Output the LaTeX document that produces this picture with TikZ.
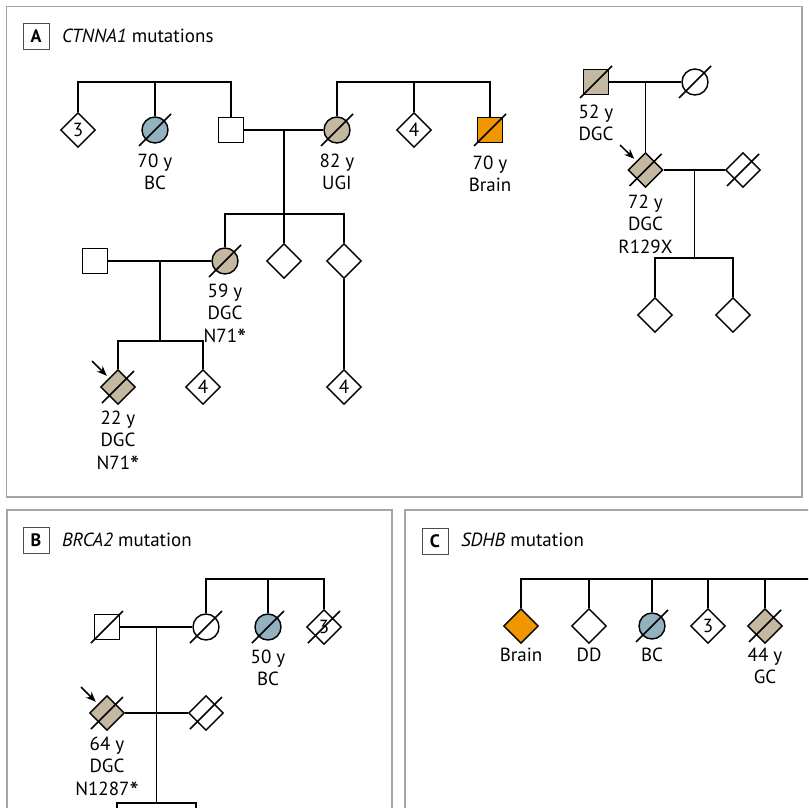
\documentclass[tikz,border=0pt]{standalone}
\usepackage{fontspec}
\setmainfont{PT Sans}
\usetikzlibrary{shapes.geometric,positioning,calc,arrows.meta}
\definecolor{gcfill}{RGB}{196,185,160}
\definecolor{bcfill}{RGB}{146,178,192}
\definecolor{brainfill}{RGB}{240,150,0}
\definecolor{framegray}{RGB}{165,165,165}
\newcommand{\dead}[1]{\draw ([shift={(-16,16)}]#1.center) -- ([shift={(16,-16)}]#1.center);}
\newcommand{\mutstar}{\raisebox{-0.3em}{\fontsize{26}{26}\selectfont *}}

\begin{document}
\begin{tikzpicture}[x=1pt,y=-1pt,line width=1.45pt,
    every node/.style={font=\fontsize{19}{22.5}\selectfont},
    male/.style={draw,rectangle,minimum size=25,inner sep=0},
    female/.style={draw,circle,minimum size=26,inner sep=0},
    unk/.style={draw,diamond,minimum size=35,inner sep=0},
    lab/.style={align=center,inner sep=0},
    frame/.style={draw=framegray,line width=1.5pt},
    tag/.style={draw=black!70,line width=0.8pt,minimum size=26,inner sep=0,font=\fontsize{18}{20}\selectfont\bfseries},
    proband/.style={-{Stealth[length=10pt,width=8pt]},line width=1.5pt,shorten >=3pt}]
    \clip (0,0) rectangle (808,808);
    \fill[white] (0,0) rectangle (808,808);

    % A
    \draw[frame] (6.5,6.5) rectangle (802,497);
    \node[tag] (ta) at (36,36) {A};
    \node[anchor=west] (tta) at (58,36) {\textit{CTNNA1} mutations};

    \node[unk] (a3) at (78,130) {3};
    \node[female,fill=bcfill] (abc) at (155,130) {};
    \node[male] (af) at (231,130) {};
    \node[female,fill=gcfill] (am) at (337,130) {};
    \node[unk] (a4) at (414,130) {4};
    \node[male,fill=brainfill] (abr) at (490,130) {};
    \dead{abc} \dead{am} \dead{abr}
    \coordinate (s1) at (0,82);
    \draw (a3.north) |- (af.north |- s1) -- (af.north);
    \draw (abc.north) -- (abc.north |- s1);
    \draw (am.north) |- (abr.north |- s1) -- (abr.north);
    \draw (a4.north) -- (a4.north |- s1);
    \draw (af) -- (am);
    \coordinate (am1) at ($(af)!0.5!(am)$);
    \node[lab,below=23pt of abc.center] (tabc) {70 y\\BC};
    \node[lab,below=23pt of am.center] (tam) {82 y\\UGI};
    \node[lab,below=25pt of abr.center] (tabr) {70 y\\Brain};

    \node[female,fill=gcfill] (a59) at (225,261) {};
    \node[unk] (ad1) at (284,261) {};
    \node[unk] (ad2) at (344,261) {};
    \coordinate (s2) at (0,214);
    \draw (am1) -- (am1 |- s2);
    \draw (a59.north) |- (ad2.north |- s2) -- (ad2.north);
    \draw (ad1.north) -- (ad1.north |- s2);
    \node[male] (asp) at (95,261) {};
    \draw (asp) -- (a59);
    \dead{a59}
    \coordinate (am2) at ($(asp)!0.5!(a59)$);
    \node[lab,below=22pt of a59.center] (ta59) {59 y\\DGC\\N71\mutstar};

    \node[unk,fill=gcfill] (ap) at (118,387) {};
    \node[unk] (a4b) at (203,387) {4};
    \node[unk] (a4c) at (344,387) {4};
    \coordinate (s3) at (0,341);
    \draw (am2) -- (am2 |- s3);
    \draw (ap.north) |- (a4b.north |- s3) -- (a4b.north);
    \draw (ad2) -- (a4c);
    \dead{ap}
    \coordinate (arA) at (92,361);
    \draw[proband] (arA) -- (ap.north west);
    \node[lab,below=23pt of ap.center] (tap) {22 y\\DGC\\N71\mutstar};

    \node[male,fill=gcfill] (rf) at (596,82) {};
    \node[female] (rm) at (695,82) {};
    \draw (rf) -- (rm);
    \dead{rf} \dead{rm}
    \coordinate (rm1) at ($(rf)!0.5!(rm)$);
    \node[unk,fill=gcfill] (rp) at (645.5,170) {};
    \node[unk] (rsp) at (743,170) {};
    \draw (rm1) -- (rp);
    \draw (rp) -- (rsp);
    \dead{rp} \dead{rsp}
    \coordinate (rm2) at ($(rp)!0.5!(rsp)$);
    \node[unk] (rc1) at (655,315) {};
    \node[unk] (rc2) at (733,315) {};
    \coordinate (s4) at (0,258);
    \draw (rm2) -- (rm2 |- s4);
    \draw (rc1.north) |- (rc2.north |- s4) -- (rc2.north);
    \coordinate (arR) at (620,145);
    \draw[proband] (arR) -- (rp.north west);
    \node[lab,below=22pt of rf.center] (trf) {52 y\\DGC};
    \node[lab,below=24pt of rp.center] (trp) {72 y\\DGC\\R129X};

    % B
    \draw[frame] (7,510) rectangle (392,830);
    \node[tag] (tb) at (36,540) {B};
    \node[anchor=west] (ttb) at (58,540) {\textit{BRCA2} mutation};

    \node[male] (bf) at (107,627) {};
    \node[female] (bm) at (206,627) {};
    \node[female,fill=bcfill] (bbc) at (268,627) {};
    \node[unk] (b3) at (324,627) {3};
    \dead{bf} \dead{bm} \dead{bbc} \dead{b3}
    \draw (bf) -- (bm);
    \coordinate (s5) at (0,579);
    \draw (bm.north) |- (b3.north |- s5) -- (b3.north);
    \draw (bbc.north) -- (bbc.north |- s5);
    \coordinate (bm1) at ($(bf)!0.5!(bm)$);
    \node[lab,below=22pt of bbc.center] (tbbc) {50 y\\BC};

    \node[unk,fill=gcfill] (bp) at (107,713) {};
    \node[unk] (bsp) at (206,713) {};
    \draw (bp) -- (bsp);
    \dead{bp} \dead{bsp}
    \coordinate (s6) at (0,803);
    \draw (bm1) -- (bm1 |- s6);
    \coordinate (bc1) at (117,815);
    \coordinate (bc2) at (196,815);
    \draw (bc1) |- (bc2 |- s6) -- (bc2);
    \coordinate (arB) at (81,687);
    \draw[proband] (arB) -- (bp.north west);
    \node[lab,below=23pt of bp.center] (tbp) {64 y\\DGC\\N1287\mutstar};

    % C
    \draw[frame] (405,510) rectangle (830,830);
    \node[tag] (tc) at (435,541) {C};
    \node[anchor=west] (ttc) at (457,540) {\textit{SDHB} mutation};

    \node[unk,fill=brainfill] (cbr) at (521,626) {};
    \node[unk] (cdd) at (589,626) {};
    \node[female,fill=bcfill] (cbc) at (652,626) {};
    \node[unk] (c3) at (708,626) {3};
    \node[unk,fill=gcfill] (cgc) at (765,626) {};
    \dead{cbc} \dead{cgc}
    \coordinate (s7) at (0,579);
    \coordinate (cend) at (815,579);
    \draw (cbr.north) |- (cend);
    \foreach \n in {cdd,cbc,c3,cgc}
        \draw (\n.north) -- (\n.north |- s7);
    \node[lab,below=21pt of cbr.center] (tcbr) {Brain};
    \node[lab,below=21pt of cdd.center] (tcdd) {DD};
    \node[lab,below=21pt of cbc.center] (tcbc) {BC};
    \node[lab,below=21pt of cgc.center] (tcgc) {44 y\\GC};
\end{tikzpicture}
\end{document}
